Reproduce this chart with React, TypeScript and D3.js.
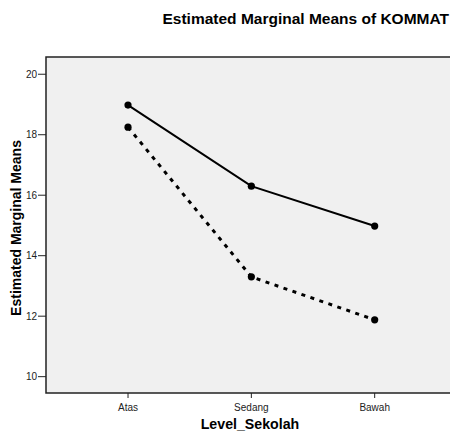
import React from 'react'
import * as d3 from 'd3'

const categories: string[] = ['Atas', 'Sedang', 'Bawah']
const seriesSolid: number[] = [18.98, 16.3, 14.98]
const seriesDashed: number[] = [18.25, 13.3, 11.88]
const yTicks: number[] = [10, 12, 14, 16, 18, 20]

const W = 450
const H = 432
const margin = { top: 57, left: 46, bottom: 39 }
const plotRight = 456.7

export default function App() {
    const x = d3.scalePoint<string>()
        .domain(categories)
        .range([margin.left, plotRight])
        .padding(0.665)

    const y = d3.scaleLinear()
        .domain([9.46, 20.57])
        .range([H - margin.bottom, margin.top])

    const line = d3.line<number>()
        .x((_, i) => x(categories[i]) as number)
        .y(d => y(d))

    const series = [
        { values: seriesSolid, dash: undefined, width: 2 },
        { values: seriesDashed, dash: '4,5.5', width: 3 },
    ]

    const bottom = H - margin.bottom

    return (
        <svg width={W} height={H} style={{ position: 'absolute', left: 0, top: 0 }}
            fontFamily="'Liberation Sans', Arial, sans-serif">
            <rect x={0} y={0} width={W} height={H} fill="#fff" />
            <text x={449} y={24} textAnchor="end" fontSize={15.5} fontWeight="bold">
                Estimated Marginal Means of KOMMAT
            </text>

            {/* plot area */}
            <rect x={margin.left} y={margin.top} width={plotRight - margin.left}
                height={bottom - margin.top} fill="#f0f0f0" stroke="#222" strokeWidth={1.5} />

            {/* y axis */}
            {yTicks.map(t => (
                <g key={t}>
                    <line x1={margin.left - 8} x2={margin.left} y1={y(t)} y2={y(t)} stroke="#222" />
                    <text x={margin.left - 9} y={y(t)} dy="0.35em" textAnchor="end" fontSize={10} fill="#222">{t}</text>
                </g>
            ))}
            <text transform={`translate(20.5, ${(margin.top + bottom) / 2 + 3}) rotate(-90)`}
                textAnchor="middle" fontSize={14} fontWeight="bold">
                Estimated Marginal Means
            </text>

            {/* x axis */}
            {categories.map(c => (
                <g key={c}>
                    <line x1={x(c)} x2={x(c)} y1={bottom} y2={bottom + 5} stroke="#222" />
                    <text x={x(c)} y={411} textAnchor="middle" fontSize={10} fill="#222">{c}</text>
                </g>
            ))}
            <text x={250} y={429} textAnchor="middle" fontSize={14.2} fontWeight="bold">Level_Sekolah</text>

            {/* lines */}
            {series.map((s, i) => (
                <g key={i}>
                    <path d={line(s.values) as string} fill="none" stroke="#000" strokeWidth={s.width}
                        strokeDasharray={s.dash} />
                    {s.values.map((v, j) => (
                        <circle key={j} cx={x(categories[j])} cy={y(v)} r={3.6} fill="#000" />
                    ))}
                </g>
            ))}
        </svg>
    )
}
